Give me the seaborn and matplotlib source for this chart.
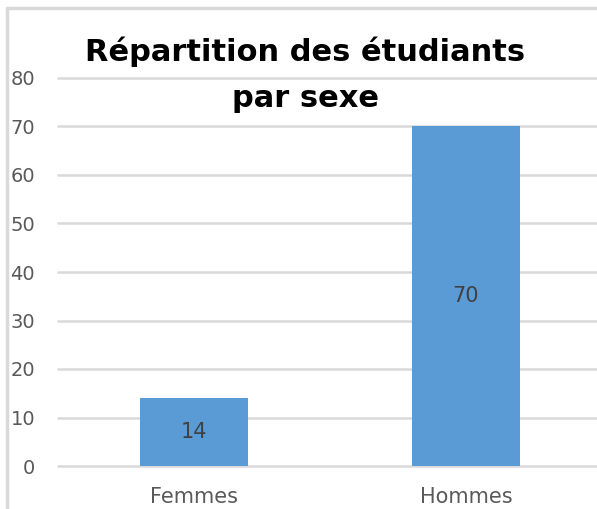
import matplotlib
matplotlib.use("Agg")
import matplotlib.pyplot as plt
import seaborn as sns
import pandas as pd
from matplotlib.lines import Line2D

# data
categories = ["Femmes", "Hommes"]
values = [14, 70]
title = "Répartition des étudiants\npar sexe"

df = pd.DataFrame({"sexe": categories, "n": values})

sns.set_style("white")
plt.rcParams["font.family"] = ["DejaVu Sans"]

W, H = 597, 509
fig = plt.figure(figsize=(W / 100, H / 100), dpi=100, facecolor="white")

# plot area (pixel positions)
x0, x1, y0, y1 = 58, 602, 466, 78
ax = fig.add_axes([x0 / W, (H - y0) / H, (x1 - x0) / W, (y0 - y1) / H])

sns.barplot(data=df, x="sexe", y="n", color="#5B9BD5", saturation=1, width=0.4,
            linewidth=0, ax=ax)
ax.bar_label(ax.containers[0], label_type="center", fontsize=15, color="#404040")

ax.set_ylim(0, 80)
ax.set_yticks(range(0, 81, 10))
ax.set_xlim(-0.5, 1.5)
ax.set_xlabel("")
ax.set_ylabel("")
ax.yaxis.grid(True, color="#d9d9d9", linewidth=1.8)
for gl in ax.get_ygridlines():
    gl.set_clip_on(False)
ax.set_axisbelow(True)
for s in ax.spines.values():
    s.set_visible(False)
ax.tick_params(axis="y", length=0, pad=16.5, labelsize=14, labelcolor="#595959")
ax.tick_params(axis="x", length=0, pad=15, labelsize=15, labelcolor="#595959")

# chart title sitting over the plot area
fig.text(305 / W, 1 - 75 / H, title, ha="center", va="center", fontsize=22,
         fontweight="bold", color="black", linespacing=1.75)

# outer chart border (top and left only are inside the picture)
border = dict(color="#d9d9d9", linewidth=2.5, transform=fig.transFigure)
fig.lines.append(Line2D([7 / W, 1.02], [1 - 8 / H, 1 - 8 / H], **border))
fig.lines.append(Line2D([7 / W, 7 / W], [-0.02, 1 - 8 / H], **border))

fig.savefig("out.png", dpi=100, facecolor="white")
